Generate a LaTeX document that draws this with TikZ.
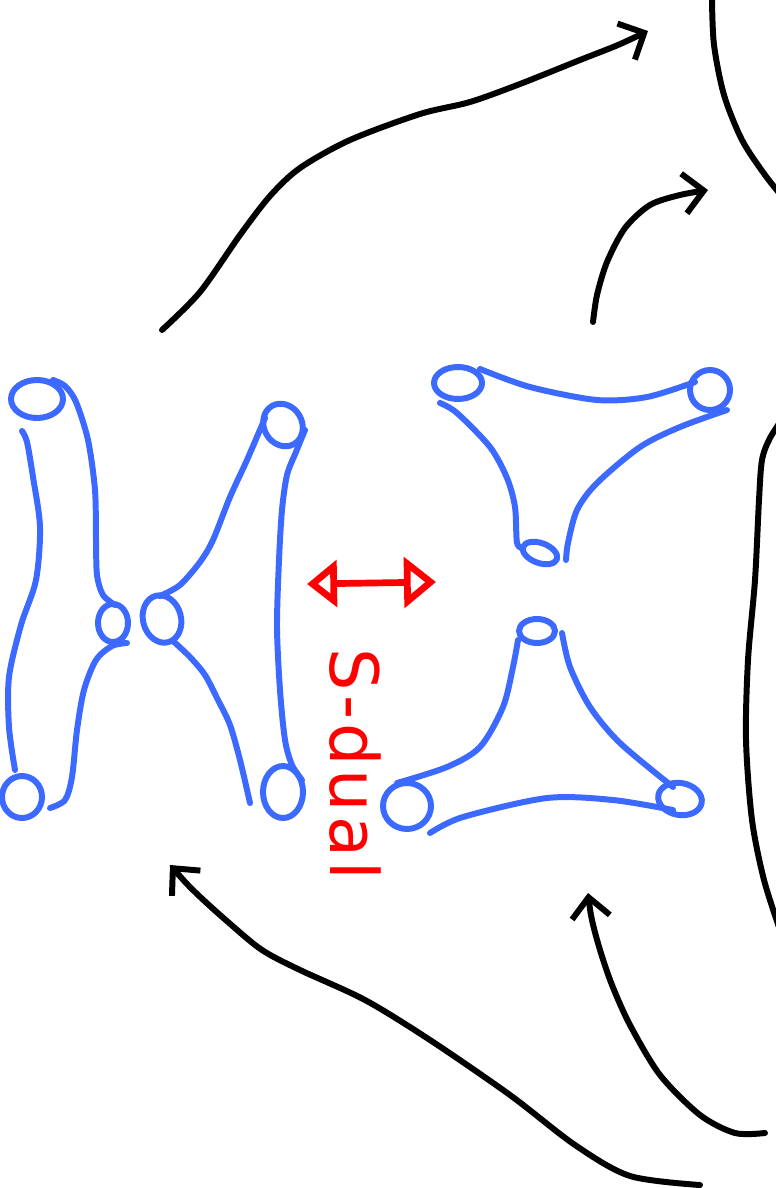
\documentclass[tikz,border=0pt]{standalone}
\usepackage{fontspec}
\newfontfamily\penfont[LetterSpace=6]{DejaVu Sans}
\definecolor{inkblue}{RGB}{60,105,255}
\definecolor{inkred}{RGB}{255,0,0}
\usetikzlibrary{arrows.meta}

\begin{document}
\begin{tikzpicture}[
  x=0.01cm,y=-0.01cm,
  pen/.style={line width=1.7pt,line cap=round,line join=round},
  tube/.style={pen,inkblue},
  flow/.style={pen,black,-{Straight Barb[length=2mm,width=4mm]}},
  backflow/.style={pen,black,{Straight Barb[length=2mm,width=3.8mm]}-},
  dualarrow/.style={line width=1.9pt,inkred,line cap=round,
    {Triangle[open,length=3mm,width=4.6mm]}-{Triangle[open,length=3.2mm,width=5mm]}}
]
  \useasboundingbox (0,0) rectangle (776,1188);
  \clip (0,0) rectangle (776,1188);

  % left pair of tubes
  \draw[tube] (37,399) ellipse [x radius=26,y radius=19];
  \draw[tube] (22,797) ellipse [x radius=20,y radius=21];
  \draw[tube] (113,623) ellipse [x radius=15,y radius=19];
  \draw[tube] plot[smooth] coordinates {(22,431) (27,442) (33,477) (40,527) (36,580) (21,625) (9,677) (9,727) (15,770)};
  \draw[tube] plot[smooth] coordinates {(53,380) (65,386) (76,402) (88,440) (95,490) (96,540) (97,575) (103,595) (115,605)};
  \draw[tube] plot[smooth] coordinates {(127,643) (112,646) (96,660) (84,690) (77,730) (72,777) (65,800) (50,808)};

  \draw[tube,rotate around={15:(162,619)}] (162,619) ellipse [x radius=19,y radius=24];
  \draw[tube,rotate around={30:(283,425)}] (283,425) ellipse [x radius=19,y radius=22];
  \draw[tube] (283,792) ellipse [x radius=20,y radius=26];
  \draw[tube] plot[smooth] coordinates {(160,596) (180,585) (200,562) (213,540) (230,497) (247,460) (265,418)};
  \draw[tube] plot[smooth] coordinates {(173,641) (190,657) (205,675) (218,700) (230,725) (240,760) (250,803)};
  \draw[tube] plot[smooth] coordinates {(305,430) (296,452) (287,475) (282,510) (279,560) (277,627) (280,690) (285,740) (292,765) (302,780)};

  % upper pair of pants
  \draw[tube] (458,383) ellipse [x radius=24,y radius=16];
  \draw[tube] (710,390) ellipse [x radius=20,y radius=20];
  \draw[tube,rotate around={-20:(540,553)}] (540,553) ellipse [x radius=18,y radius=10];
  \draw[tube] plot[smooth] coordinates {(480,369) (530,387) (597,400) (647,397) (695,382)};
  \draw[tube] plot[smooth] coordinates {(440,403) (457,413) (490,447) (507,478) (515,507) (517,543) (523,548)};
  \draw[tube] plot[smooth] coordinates {(727,410) (680,427) (640,447) (597,483) (577,510) (568,543) (566,560)};

  % lower pair of pants
  \draw[tube] (537,631) ellipse [x radius=18,y radius=12];
  \draw[tube] (407,806) ellipse [x radius=24,y radius=23];
  \draw[tube,rotate around={-10:(680,799)}] (680,799) ellipse [x radius=22,y radius=16];
  \draw[tube] plot[smooth] coordinates {(518,640) (513,667) (503,707) (480,747) (447,767) (397,783)};
  \draw[tube] plot[smooth] coordinates {(562,633) (570,667) (590,707) (620,743) (673,787)};
  \draw[tube] plot[smooth] coordinates {(430,833) (463,817) (547,798) (613,800) (673,810)};

  % S-duality
  \coordinate (dualL) at (307,584);
  \coordinate (dualR) at (436,582);
  \draw[dualarrow] (dualL) -- (dualR);
  \node[text=inkred,rotate=-90,anchor=base west,inner sep=0pt,
    font=\penfont\fontsize{19}{19}\selectfont] (sdual) at (330,648) {S-dual};

  % black arrows
  \coordinate (topA) at (162,330);
  \coordinate (topAtip) at (648,31);
  \coordinate (topB) at (593,322);
  \coordinate (topBtip) at (708,190);
  \coordinate (botA) at (700,1185);
  \coordinate (botAtip) at (170,865);
  \coordinate (botB) at (765,1133);
  \coordinate (botBtip) at (588,893);
  \draw[flow] plot[smooth] coordinates {(topA) (200,292) (240,235) (270,196) (300,168) (350,140) (420,114) (470,102) (520,84) (580,60) (618,45) (topAtip)};
  \draw[flow] plot[smooth] coordinates {(topB) (597,295) (607,262) (625,228) (650,205) (680,195) (topBtip)};
  \draw[backflow] plot[smooth] coordinates {(botAtip) (195,892) (228,922) (262,950) (300,970) (365,1000) (430,1040) (510,1095) (575,1145) (630,1176) (botA)};
  \draw[backflow] plot[smooth] coordinates {(botBtip) (592,920) (600,950) (612,985) (630,1025) (660,1075) (700,1115) (735,1133) (botB)};
  \draw[pen] plot[smooth] coordinates {(712,0) (714,45) (724,95) (742,140) (765,175) (785,200)};
  \draw[pen] plot[smooth] coordinates {(785,415) (770,438) (762,460) (759,500) (755,580) (748,660) (746,740) (752,820) (764,880) (780,930)};
\end{tikzpicture}
\end{document}
